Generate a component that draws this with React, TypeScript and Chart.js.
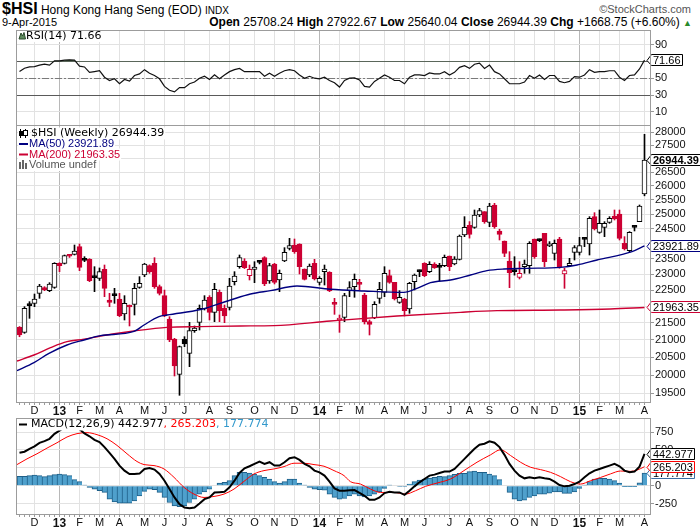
import React, { useEffect, useRef } from "react";
import { Chart, registerables } from "chart.js";

Chart.register(...registerables);

// ---------------- data ----------------
const monthTickIdx = [3, 8, 12, 16, 20, 25, 29, 33, 38, 42, 47, 51, 55, 60, 64, 68, 73, 77, 81, 86, 90, 94, 99, 103, 107, 112, 116, 120, 125];
const monthTickLabels = ["D", "13", "F", "M", "A", "M", "J", "J", "A", "S", "O", "N", "D", "14", "F", "M", "A", "M", "J", "J", "A", "S", "O", "N", "D", "15", "F", "M", "A"];

const priceTicks = [19500, 20000, 20500, 21000, 21500, 22000, 22500, 23000, 23500, 24000, 24500, 25000, 25500, 26000, 26500, 27000, 27500, 28000];
const priceTicksUnlabelled = [22000, 24000, 27000];
const rsiTicks = [10, 30, 50, 70, 90];
const rsiBands = [70, 30];
const rsiMid = 50;
const macdTicks = [-250, 0, 250, 500, 750];

const opens = [
  21370, 21220, 22040, 22090, 22398, 22575, 22481, 22585, 23349, 23349,
  23610, 23642, 23895, 23460, 23478, 22910, 22869, 23156, 22192, 22340,
  22223, 21766, 22018, 22060, 22585, 22975, 23273, 23349, 22606, 22326,
  21615, 21024, 20019, 21014, 20610, 21268, 21515, 21916, 22274, 21816,
  22429, 21937, 21968, 22763, 23241, 23425, 22950, 23156, 23400, 23533,
  22784, 23327, 22816, 23424, 23840, 23950, 23984, 23166, 22975, 23349,
  22742, 23081, 23060, 22080, 21585, 21665, 22481, 22606, 22700, 22346,
  21535, 21655, 22243, 22429, 22953, 22742, 22120, 22223, 21916, 22763,
  23100, 23349, 23081, 23327, 23240, 23273, 23588, 23327, 23479, 24285,
  24610, 24545, 24967, 25083, 24715, 25316, 24420, 24084, 23424, 23100,
  22901, 23241, 23273, 24150, 24110, 24341, 23917, 23675, 24150, 23007,
  23273, 23708, 23708, 24160, 23984, 24910, 24375, 24545, 24715, 24930,
  25002, 24006, 23763, 24560, 24738, 25708.24,
];
const highs = [
  21390, 21988, 22141, 22377, 22680, 22606, 22732, 23370, 23370, 23620,
  23640, 23950, 23983, 23566, 23500, 23241, 23200, 23295, 22398, 22554,
  22398, 22326, 22039, 22711, 22922, 23349, 23300, 23533, 22658, 22500,
  21685, 21043, 20821, 21092, 21515, 21406, 22039, 22326, 22326, 22711,
  22502, 22039, 22869, 23081, 23620, 23500, 23295, 23403, 23424, 23566,
  23349, 23349, 23134, 23862, 24173, 24150, 23990, 23170, 23327, 23479,
  22922, 23295, 23081, 22243, 21735, 22398, 22763, 23007, 22837, 22398,
  21585, 22141, 22742, 23241, 23134, 22742, 22481, 22243, 22742, 23007,
  23134, 23370, 23403, 23370, 23349, 23620, 23588, 23566, 24285, 24910,
  24740, 25141, 25199, 25083, 25374, 25374, 24480, 24084, 23730, 23566,
  23403, 23457, 24062, 24150, 24150, 24341, 24062, 24117, 24206, 23190,
  23512, 23930, 24206, 24206, 24910, 25048, 25141, 24738, 24910, 25141,
  25141, 24229, 24398, 24613, 25316, 27922.67,
];
const lows = [
  21090, 21190, 21635, 21988, 22243, 22481, 22450, 22554, 23081, 23327,
  23540, 23620, 23113, 23403, 22763, 22450, 22800, 22295, 21988, 22090,
  21685, 21585, 21407, 21735, 22554, 22922, 23028, 22554, 22346, 21685,
  20946, 19973, 19445, 20802, 20233, 21219, 21288, 21886, 21585, 21535,
  21535, 21505, 21886, 22658, 23190, 23180, 22816, 22732, 23330, 22637,
  22711, 22690, 22450, 23403, 23785, 23675, 23007, 22816, 22922, 22816,
  22658, 22658, 22450, 21755, 21219, 21535, 22295, 22275, 22502, 21465,
  21141, 21625, 22090, 22295, 22711, 22192, 22090, 21705, 21786, 22502,
  22922, 22922, 23050, 23185, 22784, 23241, 23113, 23300, 23457, 24229,
  24180, 24511, 24910, 24681, 24567, 24511, 24117, 23566, 22575, 22970,
  22848, 23028, 23028, 23510, 24060, 23241, 23895, 23457, 23190, 22554,
  23241, 23457, 23620, 23895, 23620, 24454, 24341, 24229, 24681, 24795,
  24117, 23785, 23708, 24420, 24738, 25640.04,
];
const closes = [
  21140, 21937, 22018, 22223, 22627, 22502, 22690, 23349, 23273, 23598,
  23580, 23752, 23219, 23444, 22795, 22890, 23081, 22554, 22120, 22326,
  21715, 22090, 21978, 22554, 22711, 23327, 23081, 22606, 22398, 21705,
  20995, 20252, 20802, 20879, 21268, 21347, 21937, 22192, 21816, 22523,
  21866, 21705, 22627, 22943, 23533, 23209, 23156, 23230, 23382, 22690,
  23273, 22743, 23028, 23708, 23928, 23730, 23241, 22837, 23263, 22848,
  22869, 23166, 22471, 22060, 21645, 22326, 22575, 22837, 22680, 21535,
  21456, 22060, 22523, 23028, 22742, 22223, 22274, 21866, 22711, 22975,
  23081, 22953, 23316, 23209, 23220, 23545, 23241, 23490, 24251, 24545,
  24300, 24967, 25118, 24738, 25282, 24567, 24308, 23675, 23049, 23081,
  23028, 23327, 24006, 23566, 24095, 23403, 23987, 24002, 23241, 23113,
  23349, 23862, 23928, 24140, 24852, 24488, 24679, 24682, 24852, 24830,
  24173, 23818, 24375, 24540, 25275.64, 26944.39,
];

const ma50Idx = [-0.5, 2.9, 5.9, 9.5, 12.9, 16.2, 22.9, 24.9, 27.9, 29.5, 36.2, 42.2, 46.2, 50.2, 55.5, 62.2, 68.9, 76.9, 79.5, 82.2, 86.2, 90.2, 93.5, 96.9, 101.5, 108.2, 111.5, 115.5, 122.5, 125];
const ma50Val = [20121, 20346, 20610, 20850, 20995, 21121, 21245, 21436, 21685, 21735, 21900, 22192, 22377, 22481, 22627, 22523, 22471, 22429, 22554, 22732, 22816, 22975, 23113, 23166, 23187, 23220, 23295, 23457, 23730, 23921.89];
const ma200Idx = [-0.5, 2.9, 6.2, 9.5, 12.9, 16.2, 22.9, 29.5, 36.2, 44.2, 50.9, 62.2, 75.5, 88.2, 95.5, 108.2, 118.2, 125];
const ma200Val = [20392, 20563, 20773, 20946, 21020, 21112, 21259, 21367, 21387, 21407, 21417, 21555, 21705, 21816, 21866, 21886, 21917, 21963.35];

const rsi = [
  58, 62, 63.5, 64, 65.7, 66.8, 65.7, 70.8, 70.8, 71.6,
  72, 71.6, 64.5, 63.5, 57.1, 58, 59, 51.3, 47.4, 49.4,
  43.5, 48.6, 46.7, 53.3, 55.2, 60.3, 56, 53.3, 49.4, 40.4,
  35.8, 33.8, 38.9, 38.9, 43.5, 45.5, 50.1, 52.4, 48.6, 54.1,
  49.4, 54, 57.9, 60.3, 61.8, 57.9, 57.9, 57.9, 57.9, 52.4,
  56, 52.4, 56, 59, 60.3, 59, 54, 50.1, 52.4, 50.1,
  49.4, 51.3, 47.4, 44.7, 39.6, 47.4, 50.1, 50.5, 48, 40.4,
  39.6, 46.3, 50.1, 54, 51.3, 47.4, 47.4, 43.5, 51.3, 54,
  54, 53.3, 56.4, 55.2, 55.2, 57.9, 54, 57.1, 63, 65,
  61.8, 66.8, 68, 61.8, 65.7, 57.9, 55.2, 49.4, 43.5, 43.5,
  43.5, 45.5, 53.3, 50.1, 54, 48.6, 53.3, 53.3, 46.3, 44.7,
  46.3, 52, 51.3, 54, 60.3, 57.1, 57.9, 57.9, 59, 59,
  51.3, 47.4, 53.3, 54, 61.1, 71.66,
];

const macdLine = [
  460, 475, 515, 550, 598, 622, 655, 725, 770, 815,
  850, 820, 790, 730, 690, 640, 609, 539, 459, 375,
  281, 211, 164, 164, 169, 234, 248, 225, 164, 70,
  -47, -164, -258, -305, -314, -305, -248, -188, -164, -94,
  -90, -85, -23, 70, 178, 244, 272, 305, 338, 305,
  328, 281, 281, 328, 384, 398, 361, 305, 272, 211,
  187, 141, 56, -38, -70, -70, -63, -61, -100, -141,
  -197, -197, -164, -103, -85, -94, -94, -127, -70, -9,
  47, 94, 141, 155, 178, 197, 197, 234, 305, 375,
  446, 516, 572, 586, 619, 600, 539, 431, 305, 211,
  141, 103, 117, 103, 117, 103, 94, 56, 9, -9,
  0, 23, 56, 117, 173, 211, 234, 258, 281, 305,
  272, 211, 187, 197, 267, 442.977,
];
const macdHist = [
  131, 131, 141, 150, 141, 127, 141, 155, 164, 155,
  141, 84, 56, 9, -23, -47, -70, -94, -188, -225,
  -244, -244, -244, -211, -141, -80, -47, -56, -94, -164,
  -234, -281, -291, -281, -234, -188, -117, -85, -47, 0,
  37, 47, 70, 141, 187, 187, 178, 164, 141, 117,
  94, 56, 37, 56, 94, 94, 37, 9, -23, -47,
  -56, -61, -117, -164, -188, -178, -141, -117, -141, -155,
  -141, -117, -85, -38, 9, 0, -9, -9, 23, 56,
  80, 94, 108, 117, 131, 127, 141, 159, 173, 173,
  197, 206, 187, 187, 164, 141, 84, 0, -94, -188,
  -211, -202, -164, -141, -117, -117, -103, -85, -85, -108,
  -108, -85, -38, 9, 56, 94, 103, 103, 94, 70,
  37, -12, -12, -12, 40, 177.774,
];
const signalIdx = [-0.5, 1.5, 3.5, 5.5, 7.5, 9.5, 11.5, 13.5, 15.5, 17.5, 19.5, 21.5, 23.5, 24.9, 26.9, 28.9, 30.9, 32.9, 34.9, 36.9, 38.9, 40.9, 42.9, 44.9, 46.9, 48.9, 50.9, 52.9, 54.9, 56.9, 58.9, 60.9, 62.9, 64.9, 66.2, 68.2, 70.2, 72.2, 74.9, 77.2, 79.2, 81.2, 83.5, 86.2, 88.9, 91.5, 94.2, 96.2, 98.2, 100.2, 102.2, 104.2, 106.2, 108.2, 110.2, 112.2, 114.2, 116.2, 118.2, 120.2, 122.2, 123.5, 125];
const signalVal = [295, 375, 446, 525, 600, 680, 727, 741, 713, 656, 563, 446, 338, 295, 281, 234, 117, -23, -117, -164, -150, -117, -47, 61, 164, 211, 234, 267, 314, 314, 295, 272, 211, 141, 56, 23, -47, -94, -94, -117, -70, -9, 37, 94, 211, 328, 431, 502, 422, 328, 258, 225, 187, 127, 56, 23, 70, 115, 165, 205, 200, 218, 265.203];

// ---------------- styling ----------------
const SANS = "'Liberation Sans', Arial, Helvetica, sans-serif";
const NARROW = "'Liberation Sans Narrow', 'Arial Narrow', 'Liberation Sans', Arial, sans-serif";
const LEG = "'DejaVu Sans', Verdana, sans-serif";
const RED = "#cc0033";
const NAVY = "#000080";
const GRID = "#e2e2e2";
const YEARGRID = "#b8b8b8";
const BORDER = "#9c9c9c";
const HIST_FILL = "#4fa0cc";
const HIST_EDGE = "#1e5f88";

const X_MIN = -0.7;
const X_MAX = 126.3;
const PLOT_LEFT = 16;
const AXIS_W = 49;

const last = closes.length - 1;
const weeks = closes.map((_, i) => i);
const yearTickIdx = monthTickIdx.filter((_, k) => /\d/.test(monthTickLabels[k]));
const candleColor = weeks.map((i) => (closes[i] >= (i > 0 ? closes[i - 1] : opens[i]) ? "#000000" : RED));
const candleFill = weeks.map((i) => (closes[i] < opens[i] ? candleColor[i] : "#ffffff"));

// ---------------- helpers ----------------
function makeX(axisH: number, showLabels: boolean): any {
  return {
    type: "linear",
    min: X_MIN,
    max: X_MAX,
    offset: false,
    afterBuildTicks: (s: any) => {
      s.ticks = monthTickIdx.map((v) => ({ value: v }));
    },
    afterFit: (s: any) => {
      s.height = axisH;
      s.paddingLeft = 0;
      s.paddingRight = 0;
      s.paddingTop = 0;
      s.paddingBottom = 0;
    },
    grid: {
      color: (c: any) => (c.tick && yearTickIdx.includes(c.tick.value) ? YEARGRID : GRID),
      drawTicks: false,
      offset: false,
    },
    border: { display: false },
    ticks: {
      display: showLabels,
      autoSkip: false,
      maxRotation: 0,
      minRotation: 0,
      padding: 1,
      color: "#111",
      font: (c: any) =>
        c.tick && yearTickIdx.includes(c.tick.value)
          ? { family: SANS, size: 12, weight: "bold" }
          : { family: SANS, size: 11 },
      callback: (v: any) => {
        const k = monthTickIdx.indexOf(v);
        return k >= 0 ? monthTickLabels[k] : "";
      },
    },
  };
}

function makeY(type: string, min: number, max: number, ticks: number[], hidden: number[]): any {
  return {
    type,
    position: "right",
    min,
    max,
    afterBuildTicks: (s: any) => {
      s.ticks = ticks.map((v) => ({ value: v }));
    },
    afterFit: (s: any) => {
      s.width = AXIS_W;
      s.paddingLeft = 0;
      s.paddingRight = 0;
      s.paddingTop = 0;
      s.paddingBottom = 0;
    },
    grid: { color: GRID, drawTicks: true, tickLength: 3, tickColor: "#999" },
    border: { display: false },
    ticks: {
      autoSkip: false,
      padding: 1,
      color: "#111",
      font: { family: SANS, size: 11 },
      callback: (v: any) => (hidden.includes(v) ? "" : String(v)),
    },
  };
}

function baseOptions(scales: any): any {
  return {
    animation: false,
    responsive: false,
    maintainAspectRatio: false,
    devicePixelRatio: 1,
    events: [],
    layout: { padding: { left: PLOT_LEFT, right: 0, top: 0, bottom: 0 } },
    plugins: { legend: { display: false }, tooltip: { enabled: false } },
    scales,
  };
}

type Part = { t: string; c: string; f: string };
function legendLine(ctx: CanvasRenderingContext2D, x: number, y: number, parts: Part[]) {
  let cx = x;
  ctx.save();
  ctx.textBaseline = "middle";
  ctx.textAlign = "left";
  for (const p of parts) {
    ctx.font = p.f;
    const w = ctx.measureText(p.t).width;
    ctx.fillStyle = "#ffffff";
    ctx.fillRect(cx, y - 6, w + 1, 12);
    ctx.fillStyle = p.c;
    ctx.fillText(p.t, cx, y);
    cx += w;
  }
  ctx.restore();
}

function valueBox(ctx: CanvasRenderingContext2D, area: any, y: number, text: string, border: string, bold: boolean) {
  ctx.save();
  ctx.font = `${bold ? "bold " : ""}11px ${SANS}`;
  const w = ctx.measureText(text).width;
  const yc = Math.round(y);
  const left = area.right + 0.5;
  const tip = area.right - 4;
  const right = Math.round(left + w + 3) + 0.5;
  ctx.beginPath();
  ctx.moveTo(tip, yc + 0.5);
  ctx.lineTo(left, yc - 5.5);
  ctx.lineTo(right, yc - 5.5);
  ctx.lineTo(right, yc + 5.5);
  ctx.lineTo(left, yc + 5.5);
  ctx.closePath();
  ctx.fillStyle = "#ffffff";
  ctx.fill();
  ctx.strokeStyle = border;
  ctx.lineWidth = 1;
  ctx.stroke();
  ctx.fillStyle = "#000";
  ctx.textBaseline = "middle";
  ctx.textAlign = "left";
  ctx.fillText(text, left + 1.5, yc + 0.5);
  ctx.restore();
}

function panelBorder(ctx: CanvasRenderingContext2D, a: any) {
  ctx.save();
  ctx.strokeStyle = BORDER;
  ctx.lineWidth = 1;
  ctx.strokeRect(a.left + 0.5, a.top + 0.5, a.right - a.left - 1, a.bottom - a.top - 1);
  ctx.restore();
}

function weekTicks(ctx: CanvasRenderingContext2D, chart: any) {
  const xs = chart.scales.x;
  const a = chart.chartArea;
  ctx.save();
  ctx.fillStyle = "#9a9a9a";
  for (const i of weeks) {
    const px = Math.floor(xs.getPixelForValue(i));
    ctx.fillRect(px, a.bottom, 1, 2);
  }
  ctx.restore();
}

// ---------------- chart configs ----------------
function rsiConfig(): any {
  const decor = {
    id: "rsiDecor",
    beforeDatasetsDraw(chart: any) {
      const { ctx, chartArea: a, scales } = chart;
      const y = scales.y;
      ctx.save();
      ctx.lineWidth = 1;
      ctx.strokeStyle = "#5a5a5a";
      for (const b of rsiBands) {
        const py = Math.round(y.getPixelForValue(b)) + 0.5;
        ctx.beginPath();
        ctx.moveTo(a.left, py);
        ctx.lineTo(a.right, py);
        ctx.stroke();
      }
      const pm = Math.round(y.getPixelForValue(rsiMid)) + 0.5;
      ctx.strokeStyle = "#7a7a7a";
      ctx.setLineDash([7, 2, 2, 2]);
      ctx.beginPath();
      ctx.moveTo(a.left, pm);
      ctx.lineTo(a.right, pm);
      ctx.stroke();
      ctx.restore();
    },
    afterDatasetsDraw(chart: any) {
      const { ctx, chartArea: a, scales } = chart;
      // icon
      ctx.save();
      ctx.beginPath();
      ctx.moveTo(a.left + 3, a.top + 9);
      ctx.lineTo(a.left + 5, a.top + 3);
      ctx.lineTo(a.left + 6.5, a.top + 6);
      ctx.lineTo(a.left + 8, a.top + 2.5);
      ctx.lineTo(a.left + 9.5, a.top + 9);
      ctx.closePath();
      ctx.fillStyle = "#5d8a5d";
      ctx.fill();
      ctx.strokeStyle = "#2c4a2c";
      ctx.lineWidth = 1;
      ctx.stroke();
      ctx.restore();
      legendLine(ctx, a.left + 10, a.top + 6, [{ t: `RSI(14) ${rsi[last].toFixed(2)}`, c: "#000", f: `11px ${LEG}` }]);
      valueBox(ctx, a, scales.y.getPixelForValue(rsi[last]), rsi[last].toFixed(2), "#000", false);
      panelBorder(ctx, a);
    },
  };
  return {
    type: "line",
    data: {
      datasets: [
        {
          data: weeks.map((i) => ({ x: i, y: rsi[i] })),
          borderColor: "#111",
          borderWidth: 1.2,
          pointRadius: 0,
          tension: 0,
          fill: { target: { value: rsiBands[0] }, above: "#5d8a5d", below: "rgba(0,0,0,0)" },
        },
      ],
    },
    options: baseOptions({
      x: makeX(0, false),
      y: makeY("linear", -6.8, 107.5, rsiTicks, []),
    }),
    plugins: [decor],
  };
}

function mainConfig(): any {
  const decor = {
    id: "mainDecor",
    afterDatasetsDraw(chart: any) {
      const { ctx, chartArea: a, scales } = chart;
      const L = a.left;
      const T = a.top;
      // legend icons
      ctx.save();
      ctx.fillStyle = "#fff";
      ctx.fillRect(L + 2, T + 3, 12, 42);
      // candle icon
      ctx.strokeStyle = "#000";
      ctx.fillStyle = "#000";
      ctx.lineWidth = 1;
      ctx.beginPath();
      ctx.moveTo(L + 4.5, T + 4);
      ctx.lineTo(L + 4.5, T + 13);
      ctx.moveTo(L + 9.5, T + 4);
      ctx.lineTo(L + 9.5, T + 13);
      ctx.stroke();
      ctx.fillRect(L + 3, T + 6, 4, 5);
      ctx.fillStyle = "#fff";
      ctx.fillRect(L + 8, T + 5, 3, 6);
      ctx.strokeRect(L + 7.5, T + 5.5, 4, 5);
      // MA dashes
      ctx.lineWidth = 2;
      ctx.strokeStyle = NAVY;
      ctx.beginPath();
      ctx.moveTo(L + 3, T + 19);
      ctx.lineTo(L + 12, T + 19);
      ctx.stroke();
      ctx.strokeStyle = RED;
      ctx.beginPath();
      ctx.moveTo(L + 3, T + 29.5);
      ctx.lineTo(L + 12, T + 29.5);
      ctx.stroke();
      // volume icon
      ctx.fillStyle = "#666";
      ctx.fillRect(L + 3, T + 37, 2, 7);
      ctx.fillRect(L + 6, T + 35, 2, 9);
      ctx.fillRect(L + 9, T + 38, 2, 6);
      ctx.restore();

      legendLine(ctx, L + 15, T + 8.5, [{ t: `$HSI (Weekly) ${closes[last].toFixed(2)}`, c: "#000", f: `11px ${LEG}` }]);
      legendLine(ctx, L + 13, T + 19, [{ t: `MA(50) ${ma50Val[ma50Val.length - 1].toFixed(2)}`, c: NAVY, f: `11px ${SANS}` }]);
      legendLine(ctx, L + 13, T + 29.5, [{ t: `MA(200) ${ma200Val[ma200Val.length - 1].toFixed(2)}`, c: RED, f: `11px ${SANS}` }]);
      legendLine(ctx, L + 13, T + 40, [{ t: "Volume undef", c: "#555", f: `11px ${SANS}` }]);

      valueBox(ctx, a, scales.y.getPixelForValue(ma200Val[ma200Val.length - 1]), ma200Val[ma200Val.length - 1].toFixed(2), RED, false);
      valueBox(ctx, a, scales.y.getPixelForValue(ma50Val[ma50Val.length - 1]), ma50Val[ma50Val.length - 1].toFixed(2), NAVY, false);
      valueBox(ctx, a, scales.y.getPixelForValue(closes[last]), closes[last].toFixed(2), "#000", true);
      weekTicks(ctx, chart);
      panelBorder(ctx, a);
    },
  };
  return {
    type: "bar",
    data: {
      datasets: [
        {
          type: "line",
          data: ma50Idx.map((x, k) => ({ x, y: ma50Val[k] })),
          borderColor: NAVY,
          borderWidth: 1.4,
          pointRadius: 0,
          cubicInterpolationMode: "monotone",
          order: 0,
        },
        {
          type: "line",
          data: ma200Idx.map((x, k) => ({ x, y: ma200Val[k] })),
          borderColor: RED,
          borderWidth: 1.4,
          pointRadius: 0,
          cubicInterpolationMode: "monotone",
          order: 0,
        },
        {
          type: "bar",
          data: weeks.map((i) => ({ x: i, y: [Math.min(opens[i], closes[i]), Math.max(opens[i], closes[i])] })),
          backgroundColor: candleFill,
          borderColor: candleColor,
          borderWidth: 1,
          borderSkipped: false,
          barThickness: 5,
          minBarLength: 2,
          grouped: false,
          order: 1,
        },
        {
          type: "bar",
          data: weeks.map((i) => ({ x: i, y: [lows[i], highs[i]] })),
          backgroundColor: candleColor,
          borderWidth: 0,
          barThickness: 1,
          grouped: false,
          order: 2,
        },
      ],
    },
    options: baseOptions({
      x: makeX(15, true),
      y: makeY("logarithmic", 19239, 28285, priceTicks, priceTicksUnlabelled),
    }),
    plugins: [decor],
  };
}

function macdConfig(): any {
  const decor = {
    id: "macdDecor",
    afterDatasetsDraw(chart: any) {
      const { ctx, chartArea: a, scales } = chart;
      ctx.save();
      ctx.fillStyle = "#fff";
      ctx.fillRect(a.left + 2, a.top + 2, 13, 9);
      ctx.strokeStyle = "#000";
      ctx.lineWidth = 2;
      ctx.beginPath();
      ctx.moveTo(a.left + 3, a.top + 6.5);
      ctx.lineTo(a.left + 11, a.top + 6.5);
      ctx.stroke();
      ctx.restore();
      const sv = signalVal[signalVal.length - 1];
      legendLine(ctx, a.left + 15, a.top + 6.5, [
        { t: `MACD(12,26,9) ${macdLine[last].toFixed(3)}`, c: "#000", f: `11px ${LEG}` },
        { t: `, ${sv.toFixed(3)}`, c: "#ff0000", f: `11px ${LEG}` },
        { t: `, ${macdHist[last].toFixed(3)}`, c: "#3399cc", f: `11px ${LEG}` },
      ]);
      valueBox(ctx, a, scales.y.getPixelForValue(macdHist[last]), macdHist[last].toFixed(3), "#3a6ea5", false);
      valueBox(ctx, a, scales.y.getPixelForValue(sv), sv.toFixed(3), "#ff0000", false);
      valueBox(ctx, a, scales.y.getPixelForValue(macdLine[last]), macdLine[last].toFixed(3), "#000", false);
      weekTicks(ctx, chart);
      panelBorder(ctx, a);
    },
  };
  return {
    type: "bar",
    data: {
      datasets: [
        {
          type: "line",
          data: weeks.map((i) => ({ x: i, y: macdLine[i] })),
          borderColor: "#000",
          borderWidth: 2,
          pointRadius: 0,
          tension: 0,
          order: 0,
        },
        {
          type: "line",
          data: signalIdx.map((x, k) => ({ x, y: signalVal[k] })),
          borderColor: "#ff0000",
          borderWidth: 1,
          pointRadius: 0,
          cubicInterpolationMode: "monotone",
          order: 1,
        },
        {
          type: "bar",
          data: weeks.map((i) => ({ x: i, y: macdHist[i] })),
          backgroundColor: HIST_FILL,
          borderColor: HIST_EDGE,
          borderWidth: { top: 1, left: 1, right: 0, bottom: 1 },
          borderSkipped: "start",
          barThickness: 5,
          grouped: false,
          order: 2,
        },
      ],
    },
    options: baseOptions({
      x: makeX(15, true),
      y: makeY("linear", -409, 945.5, macdTicks, []),
    }),
    plugins: [decor],
  };
}

// ---------------- component ----------------
export default function App() {
  const rsiRef = useRef<HTMLCanvasElement>(null);
  const mainRef = useRef<HTMLCanvasElement>(null);
  const macdRef = useRef<HTMLCanvasElement>(null);

  useEffect(() => {
    document.body.style.margin = "0";
    const charts: Chart[] = [];
    if (rsiRef.current) charts.push(new Chart(rsiRef.current, rsiConfig()));
    if (mainRef.current) charts.push(new Chart(mainRef.current, mainConfig()));
    if (macdRef.current) charts.push(new Chart(macdRef.current, macdConfig()));
    return () => charts.forEach((c) => c.destroy());
  }, []);

  const chg = closes[last] - closes[last - 1];
  const pct = (chg / closes[last - 1]) * 100;
  const cv = { position: "absolute" as const, left: 0 };

  return (
    <div style={{ position: "fixed", left: 0, top: 0, width: 700, height: 530, overflow: "hidden", background: "#fff" }}>
      <div style={{ position: "absolute", left: 2, top: 0, lineHeight: "18px", whiteSpace: "nowrap", fontFamily: NARROW, color: "#000" }}>
        <span style={{ fontWeight: "bold", fontSize: 16 }}>$HSI</span>
        <span style={{ fontSize: 12 }}> Hong Kong Hang Seng (EOD) </span>
        <span style={{ fontSize: 10 }}>INDX</span>
      </div>
      <div style={{ position: "absolute", right: 9, top: 3, fontFamily: SANS, fontSize: 11, color: "#555", whiteSpace: "nowrap" }}>©StockCharts.com</div>
      <div style={{ position: "absolute", left: 2, top: 15, fontFamily: SANS, fontSize: 11, lineHeight: "14px", whiteSpace: "nowrap" }}>9-Apr-2015</div>
      <div style={{ position: "absolute", right: 8, top: 15, fontFamily: NARROW, fontSize: 12, lineHeight: "14px", whiteSpace: "nowrap", color: "#000" }}>
        <b>Open</b> {opens[last].toFixed(2)} <b>High</b> {highs[last].toFixed(2)} <b>Low</b> {lows[last].toFixed(2)} <b>Close</b> {closes[last].toFixed(2)} <b>Chg</b> +{chg.toFixed(2)} (+{pct.toFixed(2)}%) <span style={{ color: "#2a8a2a", fontSize: 9 }}>▲</span>
      </div>
      <canvas ref={rsiRef} width={700} height={96} style={{ ...cv, top: 30, width: 700, height: 96 }} />
      <canvas ref={mainRef} width={700} height={293} style={{ ...cv, top: 125, width: 700, height: 293 }} />
      <canvas ref={macdRef} width={700} height={112} style={{ ...cv, top: 418, width: 700, height: 112 }} />
    </div>
  );
}
